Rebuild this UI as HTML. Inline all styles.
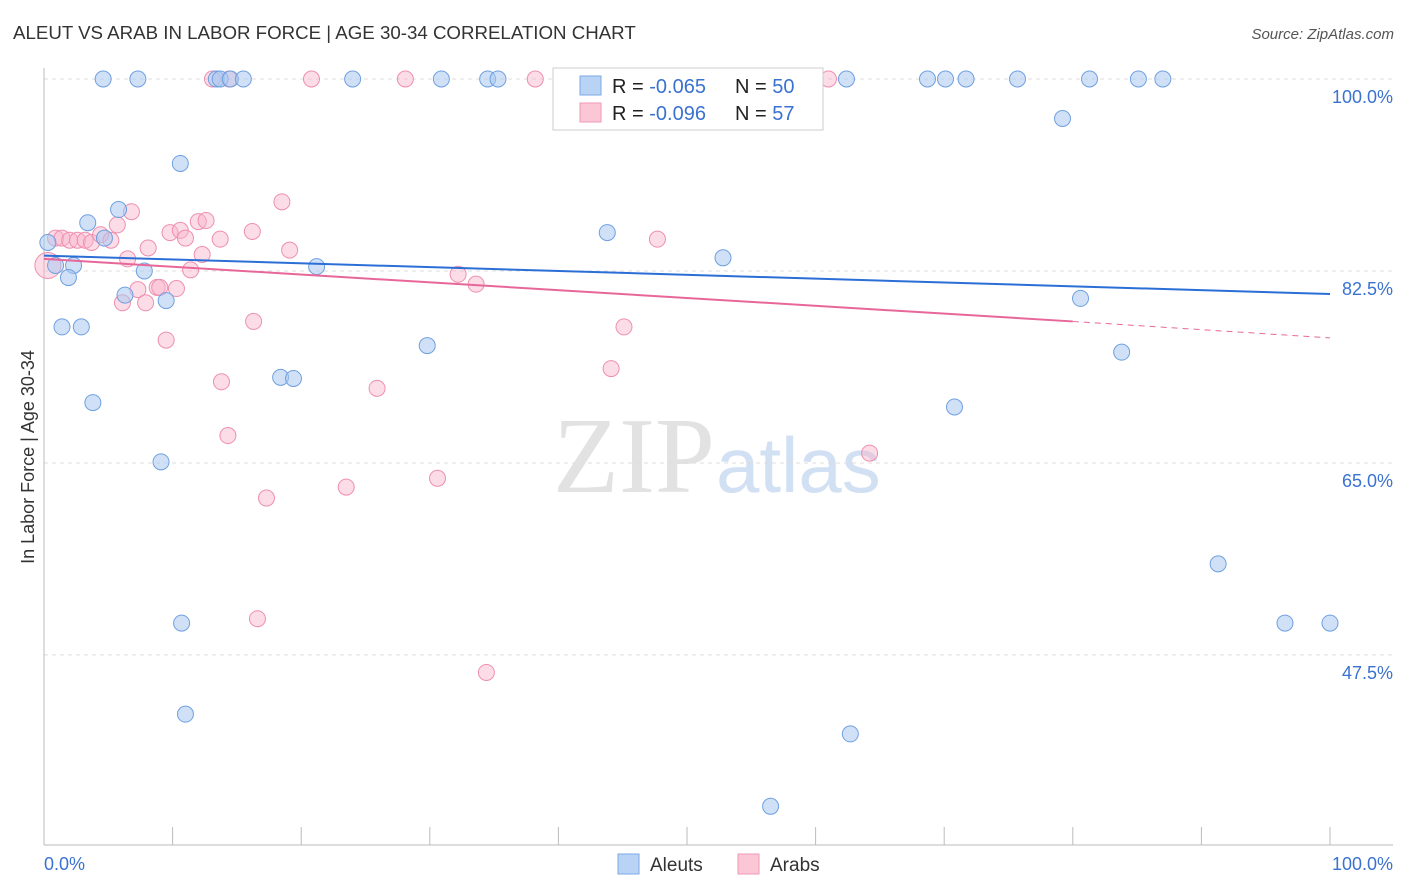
<!DOCTYPE html>
<html><head><meta charset="utf-8"><style>
body{margin:0;background:#fff;font-family:"Liberation Sans",sans-serif;}
svg{display:block}
</style></head><body>
<svg id="c" width="1406" height="892">
<text x="13" y="39" font-size="18.7" fill="#333">ALEUT VS ARAB IN LABOR FORCE | AGE 30-34 CORRELATION CHART</text>
<text x="1394" y="39" font-size="15" fill="#555" text-anchor="end" font-style="italic">Source: ZipAtlas.com</text>
<text x="34" y="457" font-size="18" fill="#333" text-anchor="middle" transform="rotate(-90 34 457)">In Labor Force | Age 30-34</text>
<text x="553" y="492" font-size="108" fill="#e2e2e2" font-family="Liberation Serif,serif">ZIP</text>
<text x="716" y="492" font-size="78" fill="#d2e0f3">atlas</text>
<g id="grid"></g><g id="pts"></g><g id="trend"></g>
<g>
<rect x="553" y="68" width="270" height="62" fill="#fff" stroke="#ccc"/>
<rect x="580" y="76" width="21" height="19" fill="#b9d3f5" stroke="#7aaae6"/>
<rect x="580" y="103" width="21" height="19" fill="#fbc6d6" stroke="#ef9ab4"/>
<text x="612" y="93" font-size="20" fill="#222">R = <tspan fill="#3a72d0">-0.065</tspan></text>
<text x="735" y="93" font-size="20" fill="#222">N = <tspan fill="#3a72d0">50</tspan></text>
<text x="612" y="120" font-size="20" fill="#222">R = <tspan fill="#3a72d0">-0.096</tspan></text>
<text x="735" y="120" font-size="20" fill="#222">N = <tspan fill="#3a72d0"> 57</tspan></text>
</g>
<g>
<rect x="618" y="854" width="21" height="20" fill="#b9d3f5" stroke="#7aaae6"/>
<text x="650" y="871" font-size="19" fill="#333">Aleuts</text>
<rect x="738" y="854" width="21" height="20" fill="#fbc6d6" stroke="#ef9ab4"/>
<text x="770" y="871" font-size="19" fill="#333">Arabs</text>
</g>
</svg>
<script>
const yTicks=[100,82.5,65,47.5];
const yTickLabels=["100.0%","82.5%","65.0%","47.5%"];
const xTickLabels=["0.0%","100.0%"];
const aleutX=[4.6,7.3,13.4,13.7,14.5,15.5,24.0,30.9,34.5,35.3,62.4,68.7,70.1,71.7,75.7,81.3,85.1,87.0,79.2,10.6,5.8,3.4,4.7,43.8,0.3,0.9,2.3,1.9,7.8,21.2,52.8,6.3,9.5,80.6,1.4,2.9,29.8,83.8,18.4,19.4,3.8,70.8,9.1,91.3,10.7,96.5,100,11.0,62.7,56.5];
const aleutY=[100,100,100,100,100,100,100,100,100,100,100,100,100,100,100,100,100,100,96.4,92.3,88.1,86.9,85.5,86.0,85.1,83.0,83.0,81.9,82.5,82.9,83.7,80.3,79.8,80.0,77.4,77.4,75.7,75.1,72.8,72.7,70.5,70.1,65.1,55.8,50.4,50.4,50.4,42.1,40.3,33.7];
const arabX=[13.1,14.4,20.8,28.1,38.2,47.1,61.0,0.3,0.9,1.4,2.0,2.6,3.2,3.7,4.4,5.2,5.7,6.8,8.1,6.5,9.8,10.6,11.0,12.0,12.6,12.3,13.7,16.2,18.5,19.1,11.4,7.3,8.8,6.1,7.9,10.3,16.3,9.5,32.2,33.6,47.7,45.1,13.8,25.9,44.1,14.3,64.2,17.3,23.5,30.6,16.6,34.4,9.0];
const arabY=[100,100,100,100,100,100,100,83.0,85.5,85.5,85.3,85.3,85.3,85.1,85.8,85.3,86.7,87.9,84.6,83.6,86.0,86.2,85.5,87.0,87.1,84.0,85.4,86.1,88.8,84.4,82.6,80.8,81.0,79.6,79.6,80.9,77.9,76.2,82.2,81.3,85.4,77.4,72.4,71.8,73.6,67.5,65.9,61.8,62.8,63.6,50.8,45.9,81.0];
const aleutTrend=[83.9,80.4];
const arabTrend=[83.6,77.9,76.4];
const NS="http://www.w3.org/2000/svg";
const sx=v=>44+v*12.86, sy=v=>79+(100-v)*10.97;
function mk(t,a,p){const e=document.createElementNS(NS,t);for(const k in a)e.setAttribute(k,a[k]);p.appendChild(e);return e;}
const grid=document.getElementById('grid');
yTicks.forEach((t,i)=>{
 const l=mk('line',{x1:44,x2:1393,y1:sy(t),y2:sy(t),stroke:'#ddd','stroke-dasharray':'4,4'},grid);
 
 
 const tx=mk('text',{x:1393,y:sy(t)+24,'font-size':18,fill:'#3a72d0','text-anchor':'end'},grid);tx.textContent=yTickLabels[i];
 
 
});
mk('line',{x1:44,x2:44,y1:68,y2:845,stroke:'#bbb'},grid);
mk('line',{x1:44,x2:1393,y1:845,y2:845,stroke:'#bbb'},grid);
for(let i=0;i<=10;i++){const t=mk('line',{x1:sx(i*10),x2:sx(i*10),y1:827,y2:845,stroke:'#bbb'},grid);
 
 }
[[0,'start',44],[100,'end',1393]].forEach((d,i)=>{const t=mk('text',{x:d[2],y:870,'font-size':18,fill:'#3a72d0','text-anchor':d[1]},grid);t.textContent=xTickLabels[i];
 
 });
const pts=document.getElementById('pts');
arabX.forEach((x,i)=>{const c=mk('circle',{cx:sx(x),cy:sy(arabY[i]),r:i==7?13:8,fill:'rgba(248,180,202,0.45)',stroke:'#ee8fae','stroke-width':1},pts);
 
 });
aleutX.forEach((x,i)=>{const c=mk('circle',{cx:sx(x),cy:sy(aleutY[i]),r:8,fill:'rgba(169,200,240,0.55)',stroke:'#6fa0e0','stroke-width':1},pts);
 
 });
const tr=document.getElementById('trend');
const b=mk('line',{x1:sx(0),y1:sy(aleutTrend[0]),x2:sx(100),y2:sy(aleutTrend[1]),stroke:'#2b6fd6','stroke-width':2},tr);


const p=mk('line',{x1:sx(0),y1:sy(arabTrend[0]),x2:sx(80),y2:sy(arabTrend[1]),stroke:'#e8679a','stroke-width':2},tr);


const pd=mk('line',{x1:sx(80),y1:sy(arabTrend[1]),x2:sx(100),y2:sy(arabTrend[2]),stroke:'#e8679a','stroke-width':1,'stroke-dasharray':'6,5'},tr);


</script>
</body></html>
